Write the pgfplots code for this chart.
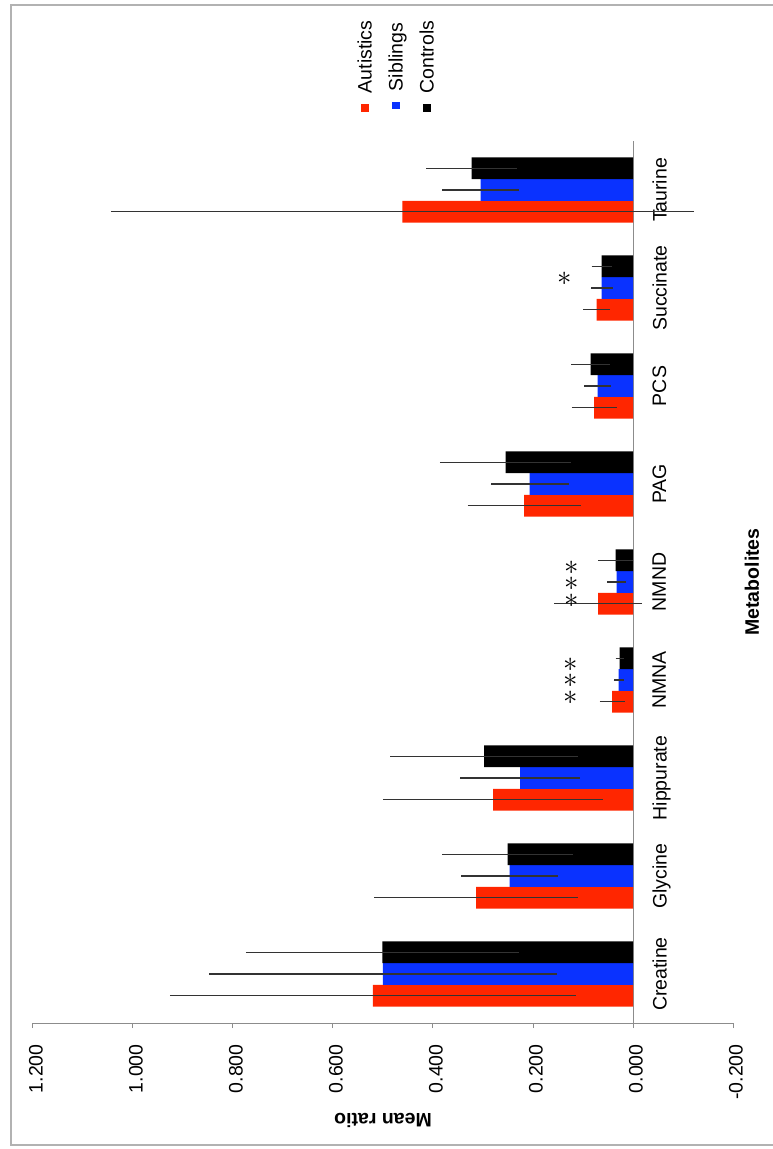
\documentclass[border=0pt]{standalone}
\usepackage{fontspec}
\setmainfont{Liberation Sans}
\usepackage{graphicx}
\usepackage{xcolor}
\usepackage{pgfplots}
\usepackage{pgfplotstable}
\pgfplotsset{compat=1.18}
\definecolor{autred}{RGB}{255,38,0}
\definecolor{sibblue}{RGB}{10,50,255}
\definecolor{axgray}{RGB}{140,140,140}

% y = category index (0 Creatine ... 8 Taurine)
\pgfplotstableread{
y A Aerr S Serr C Cerr
0 0.520 0.406 0.500 0.347 0.501 0.273
1 0.314 0.203 0.247 0.096 0.251 0.130
2 0.280 0.220 0.226 0.120 0.298 0.187
3 0.042 0.025 0.029 0.010 0.027 0.008
4 0.070 0.088 0.033 0.019 0.035 0.035
5 0.218 0.113 0.207 0.078 0.255 0.131
6 0.078 0.045 0.071 0.027 0.085 0.039
7 0.073 0.027 0.063 0.022 0.063 0.020
8 0.461 0.583 0.305 0.077 0.323 0.090
}\datatab

\begin{document}
\begin{tikzpicture}
\begin{axis}[
  at={(0,0)}, anchor=south west,
  scale only axis, width=350pt, height=441pt,
  xbar, bar width=0.222,
  x dir=reverse,
  xmin=-0.2, xmax=1.2,
  ymin=-0.5, ymax=8.5,
  axis x line=bottom, axis y line=middle,
  axis line style={-, draw=axgray, line width=0.5pt},
  hide obscured x ticks=false, hide obscured y ticks=false,
  tick align=outside, major tick length=2.5pt,
  xtick={-0.2,0,0.2,0.4,0.6,0.8,1.0,1.2},
  xticklabels={-0.200,0.000,0.200,0.400,0.600,0.800,1.000,1.200},
  x tick style={draw=axgray, line width=0.5pt},
  ytick={0,1,2,3,4,5,6,7,8},
  yticklabels={Creatine,Glycine,Hippurate,NMNA,NMND,PAG,PCS,Succinate,Taurine},
  y tick style={draw=none},
  tick label style={font=\fontsize{9.75}{11.5}\selectfont},
  xticklabel style={yshift=-8pt, xshift=1.5pt, rotate=90, anchor=east, inner sep=0pt},
  yticklabel style={xshift=12pt, rotate=90, anchor=north, inner sep=0pt},
  xlabel={\textbf{Mean ratio}},
  xlabel style={at={(axis description cs:0.5,0)}, yshift=-48.5pt, rotate=180, anchor=center, font=\fontsize{9.75}{11.5}\selectfont},
  ylabel={\textbf{Metabolites}},
  ylabel style={at={(axis description cs:1,0.5)}, xshift=9.5pt, rotate=90, anchor=center, font=\fontsize{9.75}{11.5}\selectfont},
  legend columns=3,
  legend style={at={(axis description cs:0.5214,1.0295)}, anchor=south, draw=none, fill=none,
    inner sep=0pt, font=\fontsize{9.75}{11.5}\selectfont,
    nodes={inner sep=0pt},
    /tikz/every even column/.append style={column sep=4pt}},
  error bars/error bar style={line width=0.6pt, draw=black!80},
  error bars/error mark=none,
]
\addplot[xbar, fill=autred, draw=none, bar shift=-0.222, legend image code/.code={},
  error bars/.cd, x dir=both, x explicit]
  table[x=A, y=y, x error=Aerr] {\datatab};
\addlegendentry{\rotatebox{90}{\strut\textcolor{autred}{\raisebox{1.4pt}{\rule{3.7pt}{3.7pt}}}\hspace{5.5pt}Autistics}}
\addplot[xbar, fill=sibblue, draw=none, bar shift=0, legend image code/.code={},
  error bars/.cd, x dir=both, x explicit]
  table[x=S, y=y, x error=Serr] {\datatab};
\addlegendentry{\rotatebox{90}{\strut\textcolor{sibblue}{\raisebox{1.4pt}{\rule{3.7pt}{3.7pt}}}\hspace{5.5pt}Siblings}}
\addplot[xbar, fill=black, draw=none, bar shift=0.222, legend image code/.code={},
  error bars/.cd, x dir=both, x explicit]
  table[x=C, y=y, x error=Cerr] {\datatab};
\addlegendentry{\rotatebox{90}{\strut\textcolor{black}{\raisebox{1.4pt}{\rule{3.7pt}{3.7pt}}}\hspace{5.5pt}Controls}}

% significance asterisks
\node[font=\fontsize{13.5}{8.3}\selectfont, align=center, inner sep=0pt] at (axis cs:0.125,2.99) {$\ast$\\$\ast$\\$\ast$};
\node[font=\fontsize{13.5}{8.3}\selectfont, align=center, inner sep=0pt] at (axis cs:0.123,3.98) {$\ast$\\$\ast$\\$\ast$};
\node[font=\fontsize{13.5}{8.3}\selectfont, inner sep=0pt] at (axis cs:0.136,7.09) {$\ast$};
\end{axis}
\draw[black!30, line width=1pt] (372.5pt,509pt) -- (-11pt,509pt) -- (-11pt,-61pt) -- (372.5pt,-61pt);
\pgfresetboundingbox
\useasboundingbox (-16.5pt,-63pt) rectangle (369.5pt,511.5pt);
\end{tikzpicture}
\end{document}
